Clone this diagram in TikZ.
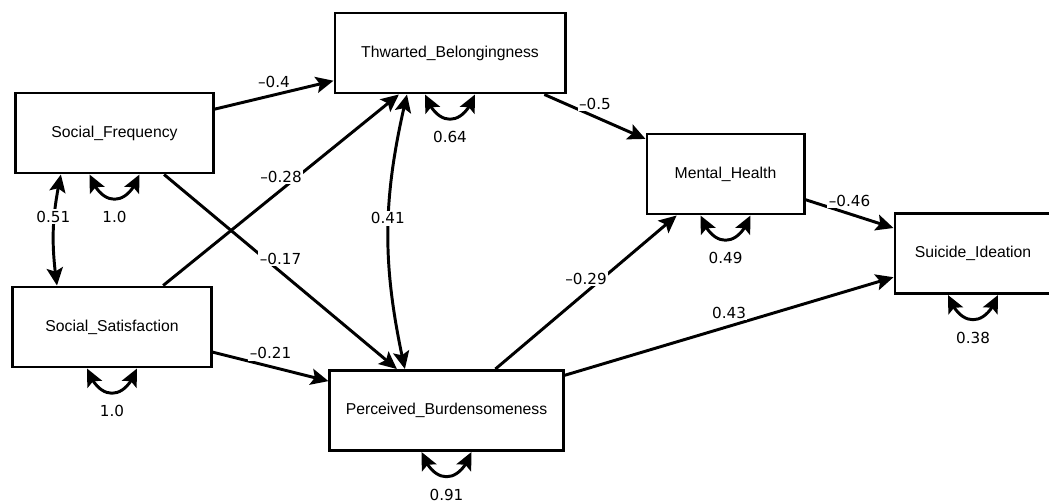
\documentclass[tikz,border=0pt]{standalone}
\usepackage{fontspec}
\setmainfont{Liberation Sans}
\newfontfamily\numfont{DejaVu Sans}
\usetikzlibrary{arrows.meta,bending}

\begin{document}
\begin{tikzpicture}[x=0.025cm, y=-0.025cm,
    box/.style={draw, line width=2.1pt, minimum width=#1, minimum height=2cm, inner sep=0pt, font=\fontsize{11.2}{13}\selectfont},
    arr/.style={line width=2.1pt, -{Stealth[length=12.5pt,width=11.5pt,inset=2.5pt]}},
    dbl/.style={line width=2.1pt, {Stealth[length=12.5pt,width=11.5pt,inset=2.5pt]}-{Stealth[length=12.5pt,width=11.5pt,inset=2.5pt]}},
    coef/.style={fill=white, inner sep=1pt, yshift=0.33cm, font=\numfont\fontsize{10.8}{12}\selectfont},
    varlbl/.style={font=\numfont\fontsize{10.8}{12}\selectfont}]
                \useasboundingbox (0, 0) rectangle (1049, 502);

                % Observed variables
                \node[box=4.925cm] (SF) at (114.5, 133) {Social\_Frequency};
                \node[box=4.95cm] (SS) at (112, 327) {Social\_Satisfaction};
                \node[box=5.75cm] (TB) at (450, 53) {Thwarted\_Belongingness};
                \node[box=5.825cm] (PB) at (446.5, 410.5) {Perceived\_Burdensomeness};
                \node[box=3.925cm] (MH) at (725.5, 174) {Mental\_Health};
                \node[box=3.9cm] (SI) at (973, 253.5) {Suicide\_Ideation};

                % Regression paths
                \draw[arr] (SF) -- (TB) node[midway, coef] {–0.4};
                \draw[arr] (SS) -- (TB) node[midway, coef] {–0.28};
                \draw[arr] (SF) -- (PB) node[midway, coef] {–0.17};
                \draw[arr] (SS) -- (PB) node[midway, coef] {–0.21};
                \draw[arr] (TB) -- (MH) node[midway, coef] {–0.5};
                \draw[arr] (PB) -- (MH) node[midway, coef] {–0.29};
                \draw[arr] (MH) -- (SI) node[midway, coef] {–0.46};
                \draw[arr] (PB) -- (SI) node[midway, coef] {0.43};

                % Covariances
                \draw[dbl] ([xshift=-1.34cm]SF.south) to[bend right=10] node[coef] {0.51} ([xshift=-1.375cm]SS.north);
                \draw[dbl] ([xshift=-1.075cm]TB.south) to[bend right=13] node[coef] {0.41} ([xshift=-1.04cm]PB.north);

                % Variances
                \foreach \v/\val in {SF/1.0, SS/1.0, TB/0.64, PB/0.91, MH/0.49, SI/0.38} {
                    \draw[dbl] ([xshift=-0.625cm]\v.south) to[out=-70, in=-110, looseness=1.8] ([xshift=0.625cm]\v.south);
                    \node[varlbl] (var\v) at ([yshift=-1.07cm]\v.south) {\val};
                }
            \end{tikzpicture}
\end{document}
